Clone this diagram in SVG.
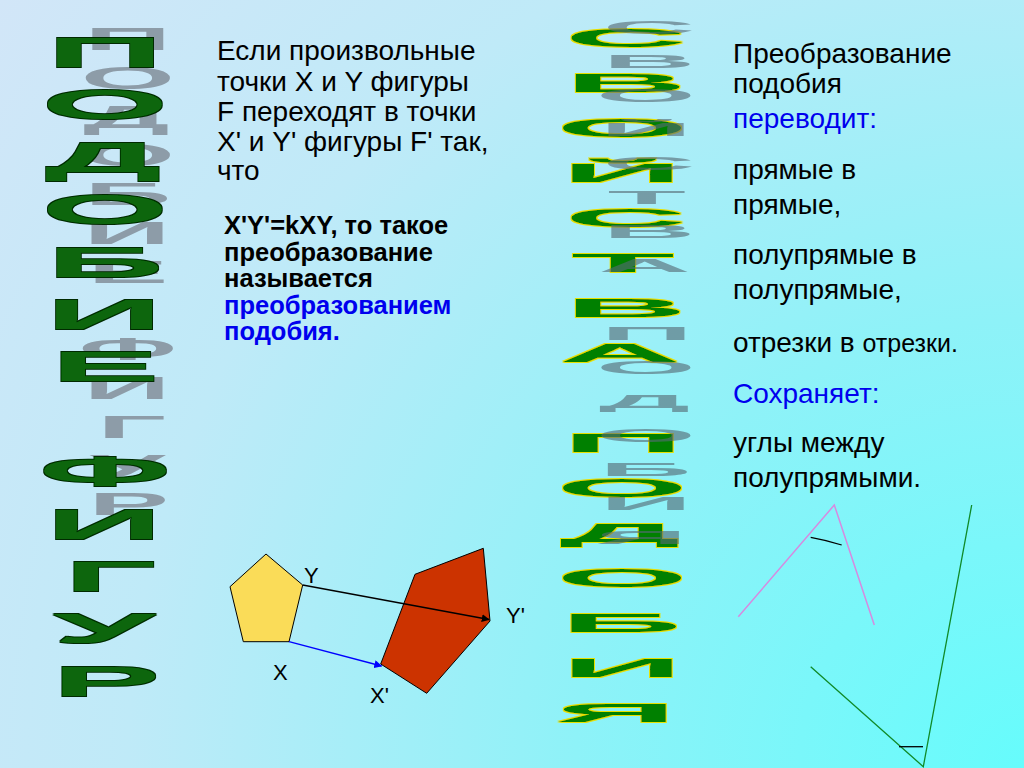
<svg xmlns="http://www.w3.org/2000/svg" xmlns:xlink="http://www.w3.org/1999/xlink" width="1024" height="768" viewBox="0 0 1024 768">
<defs>
<radialGradient id="bg" gradientUnits="userSpaceOnUse" cx="1024" cy="768" r="1280">
<stop offset="0" stop-color="#66fcfc"/>
<stop offset="0.35" stop-color="#8ef2f8"/>
<stop offset="0.7" stop-color="#bfeaf8"/>
<stop offset="1" stop-color="#d2e6f8"/>
</radialGradient>
<filter id="outDark" x="-10%" y="-5%" width="120%" height="110%">
<feMorphology in="SourceAlpha" operator="dilate" radius="0.8" result="d"/>
<feFlood flood-color="#002a00" result="c"/>
<feComposite in="c" in2="d" operator="in" result="o"/>
<feMerge><feMergeNode in="o"/><feMergeNode in="SourceGraphic"/></feMerge>
</filter>
<filter id="outYellow" x="-10%" y="-5%" width="120%" height="110%">
<feMorphology in="SourceAlpha" operator="dilate" radius="1" result="d"/>
<feFlood flood-color="#e8e000" result="c"/>
<feComposite in="c" in2="d" operator="in" result="o"/>
<feMerge><feMergeNode in="o"/><feMergeNode in="SourceGraphic"/></feMerge>
</filter>
<marker id="arrBlack" viewBox="0 0 10 10" refX="9" refY="5" markerWidth="8" markerHeight="8" markerUnits="userSpaceOnUse" orient="auto"><path d="M0,0 L10,5 L0,10 z" fill="#000"/></marker>
<marker id="arrBlue" viewBox="0 0 10 10" refX="9" refY="5" markerWidth="8" markerHeight="8" markerUnits="userSpaceOnUse" orient="auto"><path d="M0,0 L10,5 L0,10 z" fill="#0000ff"/></marker>
<g id="wordLeft" font-family="'Liberation Sans', Arial, sans-serif" font-weight="bold" font-size="42" text-anchor="middle">
<text transform="translate(105 67) scale(3.9 1)">П</text>
<text transform="translate(105 119.4) scale(3.9 1)">О</text>
<text transform="translate(103 171.8) scale(3.9 1)">Д</text>
<text transform="translate(105 224.2) scale(3.9 1)">О</text>
<text transform="translate(105 276.6) scale(3.9 1)">Б</text>
<text transform="translate(104 329) scale(3.9 1)">И</text>
<text transform="translate(105 381.4) scale(3.9 1)">Е</text>
<text transform="translate(105 486.2) scale(3.7 1)">Ф</text>
<text transform="translate(104 538.6) scale(3.9 1)">И</text>
<text transform="translate(110 591) scale(3.9 1)">Г</text>
<text transform="translate(104 643.4) scale(3.9 1)">У</text>
<text transform="translate(106 695.8) scale(3.9 1)">Р</text>
</g>
<g id="wordMid" font-family="'Liberation Sans', Arial, sans-serif" font-weight="bold" font-size="25" text-anchor="middle">
<text transform="translate(626 47) scale(6.8 1)">С</text>
<text transform="translate(626 92) scale(6.8 1)">В</text>
<text transform="translate(622 137) scale(6.8 1)">О</text>
<text transform="translate(622 182) scale(6.8 1)">Й</text>
<text transform="translate(626 227) scale(6.8 1)">С</text>
<text transform="translate(623 272) scale(6.8 1)">Т</text>
<text transform="translate(626 317) scale(6.8 1)">В</text>
<text transform="translate(620 362) scale(6.8 1)">А</text>
<text transform="translate(623 452) scale(6.8 1)">П</text>
<text transform="translate(622 497) scale(6.8 1)">О</text>
<text transform="translate(620 542) scale(6.8 1)">Д</text>
<text transform="translate(622 587) scale(6.8 1)">О</text>
<text transform="translate(621 632) scale(6.8 1)">Б</text>
<text transform="translate(622 677) scale(6.8 1)">И</text>
<text transform="translate(616 722) scale(6.8 1)">Я</text>
</g>
</defs>
<style>
.body{font-family:'Liberation Sans',Arial,sans-serif;fill:#000;}
.t28{font-size:28px;}
.bold{font-size:25.5px;font-weight:bold;}
.blue{fill:#0000ee;}
.lbl{font-family:'Liberation Sans',Arial,sans-serif;font-size:22px;fill:#000;}
.shadowL{fill:#8d9ca8;}
.greenL{fill:#0a660a;}
.shadowM{fill:#566a74;opacity:0.62;}
.greenM{fill:#008000;}
</style>
<rect id="background" x="0" y="0" width="1024" height="768" fill="url(#bg)"/>

<g id="title-podobie-figur">
<use xlink:href="#wordLeft" href="#wordLeft" class="shadowL" transform="matrix(0.74 0 0 0.74 50.2 0.5)"/>
<use xlink:href="#wordLeft" href="#wordLeft" class="greenL" filter="url(#outDark)"/>
</g>

<g id="title-svoystva-podobiya">
<use xlink:href="#wordMid" href="#wordMid" class="greenM" filter="url(#outYellow)"/>
<use xlink:href="#wordMid" href="#wordMid" class="shadowM" transform="matrix(0.755 0 0 0.755 176.4 -1)"/>
</g>

<g id="definition" class="body t28">
<text x="217" y="60">Если произвольные</text>
<text x="217" y="90.5">точки X и Y фигуры</text>
<text x="217" y="121">F переходят в точки</text>
<text x="217" y="151">X' и Y' фигуры F' так,</text>
<text x="217" y="180">что</text>
</g>

<g id="definition-bold" class="body bold">
<text x="224" y="234">X'Y'=kXY, то такое</text>
<text x="224" y="260.5">преобразование</text>
<text x="224" y="287">называется</text>
<text x="224" y="313.5" class="blue">преобразованием</text>
<text x="224" y="340" class="blue">подобия.</text>
</g>

<g id="properties" class="body t28">
<text x="733" y="63">Преобразование</text>
<text x="733" y="93">подобия</text>
<text x="733" y="128" class="blue">переводит:</text>
<text x="733" y="179">прямые в</text>
<text x="733" y="214">прямые,</text>
<text x="733" y="264">полупрямые в</text>
<text x="733" y="299">полупрямые,</text>
<text x="733" y="352">отрезки в <tspan font-size="25">отрезки.</tspan></text>
<text x="733" y="403" class="blue">Сохраняет:</text>
<text x="733" y="452">углы между</text>
<text x="733" y="487">полупрямыми.</text>
</g>

<g id="figure-F">
<polygon points="266,554 302.7,585 289,641.7 243.3,641.7 230,586.7" fill="#fadc58" stroke="#000" stroke-width="1"/>
</g>
<g id="figure-F-prime">
<polygon points="415,574.3 483.3,548.3 490,621 426.7,693.3 380.7,664" fill="#cc3300" stroke="#000" stroke-width="1"/>
</g>

<g id="connectors">
<line x1="302.7" y1="585" x2="489" y2="619.5" stroke="#000" stroke-width="1.3" marker-end="url(#arrBlack)"/>
<line x1="289" y1="641.7" x2="381.5" y2="666" stroke="#0000ff" stroke-width="1.3" marker-end="url(#arrBlue)"/>
</g>

<g id="labels" class="lbl">
<text x="304" y="583">Y</text>
<text x="506" y="623">Y'</text>
<text x="273" y="680">X</text>
<text x="370" y="703">X'</text>
</g>

<g id="angle-1">
<polyline points="738.3,616.7 834.3,505 874.3,625" fill="none" stroke="#d68ae0" stroke-width="1.5"/>
<path d="M810.7,537.3 Q826,540 841.7,545" fill="none" stroke="#000" stroke-width="1.3"/>
</g>
<g id="angle-2">
<polyline points="810.7,666.7 923.3,766.7 971.7,505" fill="none" stroke="#108a28" stroke-width="1.3"/>
<line x1="899" y1="746.7" x2="923" y2="746.7" stroke="#000" stroke-width="1.3"/>
</g>
</svg>
